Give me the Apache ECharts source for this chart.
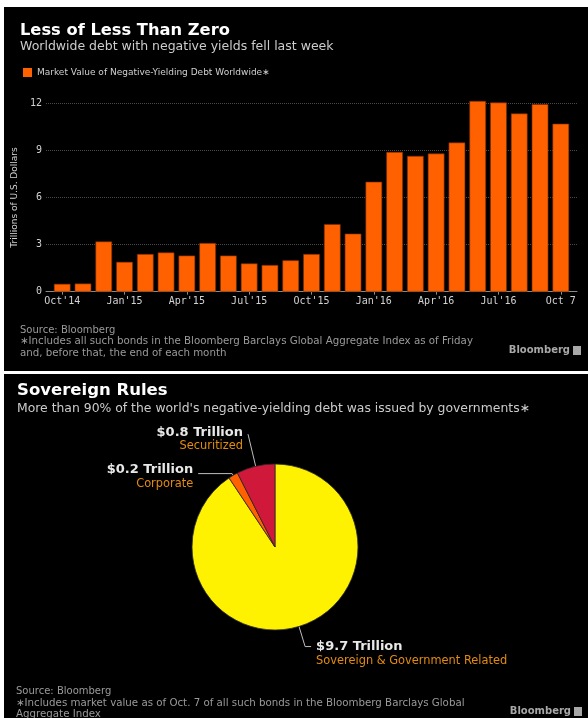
<!DOCTYPE html>
<html><head><meta charset="utf-8">
<script src="https://cdn.jsdelivr.net/npm/echarts@6/dist/echarts.min.js"></script>
<style>
html,body{margin:0;padding:0;background:#fff;}
#wrap{position:relative;width:588px;height:718px;background:#fff;overflow:hidden}
.panel{position:absolute;background:#000}
#chart{position:absolute;left:0;top:0;width:588px;height:718px}
</style></head><body>
<div id="wrap">
<div class="panel" style="left:4px;top:7px;width:584px;height:364px"></div>
<div class="panel" style="left:4px;top:374px;width:584px;height:344px"></div>
<div id="chart"></div>
</div>
<script>
// ---- data ----
const categories = ["Oct'14","Nov'14","Dec'14","Jan'15","Feb'15","Mar'15","Apr'15","May'15","Jun'15",
  "Jul'15","Aug'15","Sep'15","Oct'15","Nov'15","Dec'15","Jan'16","Feb'16","Mar'16","Apr'16",
  "May'16","Jun'16","Jul'16","Aug'16","Sep'16","Oct 7"];
const debtValues = [0.5, 0.52, 3.2, 1.9, 2.4, 2.5, 2.3, 3.1, 2.3, 1.8, 1.7, 2.0, 2.4, 4.3, 3.7,
  7.0, 8.9, 8.65, 8.8, 9.5, 12.15, 12.05, 11.35, 11.95, 10.7];
const xLabelIndex = [0, 3, 6, 9, 12, 15, 18, 21, 24];
const yTicks = [0, 3, 6, 9, 12];
const seriesName = 'Market Value of Negative-Yielding Debt Worldwide\u2217';
const pieNames = ['Sovereign & Government Related', 'Corporate', 'Securitized'];
const pieValues = [9.7, 0.2, 0.8];

// ---- styles ----
const pieColors = ['#fff200', '#ff6000', '#d0193a'];
const pieLabelTweaks = [
  {length: 21, length2: 6, pad: 14},
  {length: 2, length2: 34, pad: 6},
  {length: 33, length2: 0, pad: 10}
];
const SANS = '"DejaVu Sans"';
const MONO = '"DejaVu Sans Mono"';

function txt(x, y, text, font, fill, align) {
  return {type: 'text', x: x, y: y, silent: true,
    style: {text: text, font: font, fill: fill, align: align || 'left', verticalAlign: 'middle'}};
}

const chart = echarts.init(document.getElementById('chart'), null, {renderer: 'canvas'});
const option = {
  animation: false,
  backgroundColor: 'transparent',
  legend: {
    left: 18, top: 63, itemWidth: 9, itemHeight: 9, itemGap: 4, icon: 'rect',
    itemStyle: {borderWidth: 0, color: '#ff6000'},
    textStyle: {color: '#d0d0d0', fontSize: 9, fontFamily: SANS},
    data: [seriesName], selectedMode: false
  },
  grid: {left: 46, right: 11, top: 103.3, bottom: 426.3, containLabel: false},
  xAxis: {
    type: 'value', min: -0.78, max: 24.78,
    splitLine: {show: false},
    axisLine: {show: true, onZero: true, lineStyle: {color: '#8a8a8a', width: 1}},
    axisTick: {show: true, customValues: xLabelIndex, length: 3, lineStyle: {color: '#8a8a8a'}},
    axisLabel: {customValues: xLabelIndex, formatter: v => categories[v], color: '#d2d2d2',
      fontFamily: MONO, fontSize: 10, margin: 5}
  },
  yAxis: {
    type: 'value', min: yTicks[0], max: yTicks[yTicks.length - 1], interval: 3,
    axisLine: {show: false}, axisTick: {show: false},
    axisLabel: {color: '#d2d2d2', fontFamily: MONO, fontSize: 10, margin: 4},
    splitLine: {lineStyle: {type: 'dotted', color: '#4a4a4a', width: 1}},
    name: 'Trillions of U.S. Dollars', nameLocation: 'middle', nameGap: 21,
    nameTextStyle: {color: '#d2d2d2', fontSize: 9, fontFamily: SANS}
  },
  series: [
    {
      name: seriesName, type: 'bar', clip: false, barWidth: 16.6,
      itemStyle: {color: '#ff6000', borderColor: '#7a2e00', borderWidth: 0.6},
      data: debtValues.map((v, i) => [i, v]),
      emphasis: {disabled: true}
    },
    {
      type: 'pie', center: [275, 547], radius: 83, startAngle: 90, clockwise: true,
      avoidLabelOverlap: false,
      itemStyle: {borderColor: '#2a2a2a', borderWidth: 0.8},
      emphasis: {disabled: true},
      label: {
        show: true, position: 'outside', alignTo: 'none', distanceToLabelLine: 5,
        formatter: p => '{v|$' + p.value + ' Trillion}\n{n|' + p.name + '}',
        rich: {
          v: {fontFamily: SANS, fontWeight: 'bold', fontSize: 13, color: '#e8e8e8', lineHeight: 14},
          n: {fontFamily: SANS, fontSize: 11.4, color: '#e38b0e', lineHeight: 14}
        }
      },
      labelLine: {show: true, smooth: false, lineStyle: {color: '#bdbdbd', width: 1}},
      data: pieNames.map((n, i) => ({
        name: n, value: pieValues[i],
        itemStyle: {color: pieColors[i]},
        label: {padding: [pieLabelTweaks[i].pad, 0, 0, 0]},
        labelLine: {length: pieLabelTweaks[i].length, length2: pieLabelTweaks[i].length2}
      }))
    }
  ],
  graphic: {elements: [
    txt(20, 31, 'Less of Less Than Zero', 'bold 16.3px ' + SANS, '#ffffff'),
    txt(20, 47, 'Worldwide debt with negative yields fell last week', '12.5px ' + SANS, '#cccccc'),
    txt(20, 330, 'Source: Bloomberg', '10px ' + SANS, '#9a9a9a'),
    txt(20, 341.5, '\u2217Includes all such bonds in the Bloomberg Barclays Global Aggregate Index as of Friday', '10.25px ' + SANS, '#9a9a9a'),
    txt(20, 353, 'and, before that, the end of each month', '10.25px ' + SANS, '#9a9a9a'),
    txt(570, 350.5, 'Bloomberg', 'bold 10px ' + SANS, '#a8a8a8', 'right'),
    {type: 'rect', shape: {x: 573, y: 346, width: 8, height: 9}, style: {fill: '#a8a8a8'}, silent: true},

    txt(17, 391, 'Sovereign Rules', 'bold 16.5px ' + SANS, '#ffffff'),
    txt(17, 408.5, 'More than 90% of the world\'s negative-yielding debt was issued by governments\u2217', '12.4px ' + SANS, '#cccccc'),
    txt(16, 691.5, 'Source: Bloomberg', '10px ' + SANS, '#9a9a9a'),
    txt(16, 703, '\u2217Includes market value as of Oct. 7 of all such bonds in the Bloomberg Barclays Global', '10.25px ' + SANS, '#9a9a9a'),
    txt(16, 714.5, 'Aggregate Index', '10.25px ' + SANS, '#9a9a9a'),
    txt(571, 711.5, 'Bloomberg', 'bold 10px ' + SANS, '#a8a8a8', 'right'),
    {type: 'rect', shape: {x: 574, y: 707, width: 8, height: 9}, style: {fill: '#a8a8a8'}, silent: true}
  ]}
};
chart.setOption(option);
</script>
</body></html>
